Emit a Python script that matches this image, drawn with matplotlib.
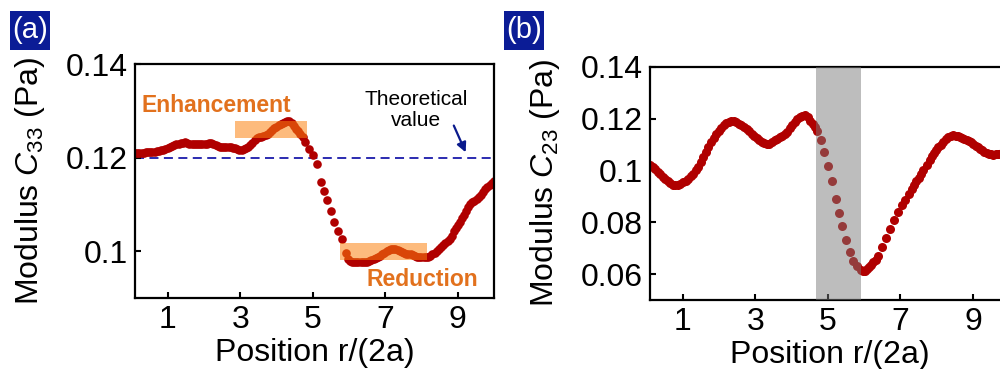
import numpy as np
import matplotlib.pyplot as plt
from matplotlib.patches import Rectangle

plt.rcParams['font.family'] = ['Liberation Sans', 'DejaVu Sans']
plt.rcParams['mathtext.fontset'] = 'custom'
plt.rcParams['mathtext.rm'] = 'Liberation Sans'
plt.rcParams['mathtext.it'] = 'Liberation Sans:italic'

# panel (a): modulus C33 vs position
xa = [0.10, 0.16, 0.22, 0.28, 0.34, 0.40, 0.46, 0.52, 0.58, 0.64, 0.70, 0.76, 0.82, 0.88, 0.94,
      1.00, 1.06, 1.12, 1.18, 1.24, 1.30, 1.36, 1.42, 1.48, 1.54, 1.60, 1.66, 1.72, 1.78, 1.84,
      1.90, 1.96, 2.02, 2.08, 2.14, 2.20, 2.26, 2.32, 2.38, 2.44, 2.50, 2.56, 2.62, 2.68, 2.74,
      2.80, 2.86, 2.92, 2.98, 3.04, 3.10, 3.16, 3.22, 3.28, 3.34, 3.40, 3.46, 3.52, 3.58, 3.64,
      3.70, 3.76, 3.82, 3.88, 3.94, 4.00, 4.06, 4.12, 4.18, 4.24, 4.30, 4.36, 4.42, 4.48, 4.54,
      4.60, 4.66, 4.72,
      4.80, 4.90, 5.00, 5.12, 5.22, 5.31, 5.39, 5.50, 5.60, 5.71, 5.81, 5.92,
      5.97, 6.02, 6.08, 6.14, 6.20, 6.26, 6.32, 6.38, 6.44, 6.50, 6.56, 6.62, 6.68, 6.74, 6.80,
      6.86, 6.92, 6.98, 7.04, 7.10, 7.16, 7.22, 7.28, 7.34, 7.40, 7.46, 7.52, 7.58, 7.64, 7.70,
      7.76, 7.82, 7.88, 7.94, 8.00, 8.06, 8.12, 8.18, 8.24,
      8.30, 8.36, 8.42, 8.48, 8.54, 8.60, 8.66, 8.72, 8.78, 8.84, 8.90, 8.95, 9.00, 9.06, 9.11,
      9.16, 9.22, 9.28, 9.34, 9.40, 9.46, 9.52, 9.58, 9.64, 9.70, 9.76, 9.82, 9.88, 9.94, 10.0]
ya = [0.1210, 0.1210, 0.1209, 0.1210, 0.1210, 0.1211, 0.1211, 0.1212, 0.1213, 0.1213, 0.1214,
      0.1215, 0.1216, 0.1217, 0.1218, 0.1220, 0.1222, 0.1225, 0.1227, 0.1229, 0.1230, 0.1231,
      0.1232, 0.1233, 0.1232, 0.1229, 0.1229, 0.1230, 0.1230, 0.1229, 0.1230, 0.1230, 0.1229,
      0.1230, 0.1231, 0.1231, 0.1229, 0.1226, 0.1224, 0.1223, 0.1222, 0.1222, 0.1222, 0.1222,
      0.1222, 0.1221, 0.1220, 0.1218, 0.1216, 0.1217, 0.1219, 0.1221, 0.1223, 0.1226, 0.1231,
      0.1238, 0.1242, 0.1244, 0.1245, 0.1246, 0.1248, 0.1251, 0.1255, 0.1259, 0.1263, 0.1266,
      0.1269, 0.1272, 0.1275, 0.1277, 0.1279, 0.1278, 0.1274, 0.1268, 0.1262, 0.1257, 0.1251,
      0.1244,
      0.1233, 0.1219, 0.1206, 0.1186, 0.1148, 0.1128, 0.1109, 0.1087, 0.1062, 0.1043, 0.1027,
      0.0997,
      0.0983, 0.0980, 0.0978, 0.0977, 0.0976, 0.0976, 0.0976, 0.0976, 0.0977, 0.0978, 0.0979,
      0.0981, 0.0983, 0.0985, 0.0987, 0.0990, 0.0994, 0.0997, 0.1000, 0.1002, 0.1004, 0.1005,
      0.1005, 0.1003, 0.1001, 0.0999, 0.0997, 0.0995, 0.0994, 0.0993, 0.0991, 0.0990, 0.0988,
      0.0987, 0.0987, 0.0987, 0.0988, 0.0988, 0.0989,
      0.0994, 0.0997, 0.1001, 0.1005, 0.1009, 0.1014, 0.1018, 0.1022, 0.1027, 0.1033, 0.1044,
      0.1050, 0.1055, 0.1062, 0.1070, 0.1077, 0.1085, 0.1094, 0.1101, 0.1105, 0.1108, 0.1111,
      0.1116, 0.1121, 0.1127, 0.1133, 0.1138, 0.1142, 0.1146, 0.1150]

# panel (b): modulus C23 vs position
xb = [0.10, 0.17, 0.24, 0.31, 0.38, 0.45, 0.52, 0.59, 0.66, 0.73, 0.80, 0.87, 0.94, 1.01, 1.08,
      1.15, 1.22, 1.29, 1.36, 1.43, 1.50, 1.57, 1.64, 1.71, 1.78, 1.85, 1.92, 1.99, 2.06, 2.13,
      2.20, 2.27, 2.34, 2.41, 2.48, 2.55, 2.62, 2.69, 2.76, 2.83, 2.90, 2.97, 3.04, 3.11, 3.18,
      3.25, 3.32, 3.39, 3.46, 3.53, 3.60, 3.67, 3.74, 3.81, 3.88, 3.95, 4.02, 4.09, 4.16, 4.23,
      4.30, 4.37, 4.44, 4.51, 4.58, 4.64,
      4.71, 4.81, 4.90, 5.01, 5.11, 5.21, 5.31, 5.40, 5.50, 5.60, 5.70, 5.81, 5.90, 5.96, 6.02,
      6.08, 6.14, 6.20, 6.25, 6.32, 6.39, 6.50, 6.60, 6.71, 6.82, 6.92, 7.03, 7.13, 7.23, 7.31,
      7.37, 7.43, 7.52, 7.57, 7.63, 7.72, 7.81, 7.87, 7.92, 7.98, 8.04, 8.11, 8.18, 8.25, 8.32,
      8.39, 8.45, 8.52, 8.58, 8.64, 8.70, 8.76, 8.82, 8.88, 8.95, 9.01, 9.07, 9.13, 9.19, 9.25,
      9.31, 9.37, 9.43, 9.50, 9.56, 9.62, 9.68, 9.74, 9.80]
yb = [0.1022, 0.1014, 0.1004, 0.0994, 0.0985, 0.0976, 0.0967, 0.0958, 0.0950, 0.0945, 0.0942,
      0.0944, 0.0948, 0.0954, 0.0961, 0.0968, 0.0978, 0.0988, 0.1000, 0.1015, 0.1033, 0.1052,
      0.1071, 0.1090, 0.1108, 0.1125, 0.1140, 0.1153, 0.1165, 0.1175, 0.1183, 0.1188, 0.1190,
      0.1190, 0.1186, 0.1181, 0.1175, 0.1168, 0.1160, 0.1151, 0.1142, 0.1133, 0.1124, 0.1116,
      0.1110, 0.1105, 0.1102, 0.1102, 0.1108, 0.1116, 0.1122, 0.1128, 0.1133, 0.1140, 0.1150,
      0.1162, 0.1174, 0.1186, 0.1197, 0.1206, 0.1212, 0.1214, 0.1208, 0.1192, 0.1180, 0.1168,
      0.1151, 0.1116, 0.1071, 0.1019, 0.0961, 0.0890, 0.0835, 0.0784, 0.0732, 0.0684, 0.0652,
      0.0630, 0.0617, 0.0612, 0.0613, 0.0618, 0.0626, 0.0636, 0.0645, 0.0656, 0.0671, 0.0706,
      0.0740, 0.0774, 0.0809, 0.0839, 0.0865, 0.0887, 0.0910, 0.0929, 0.0945, 0.0959, 0.0972,
      0.0985, 0.1000, 0.1022, 0.1041, 0.1055, 0.1067, 0.1079, 0.1090, 0.1100, 0.1109, 0.1120,
      0.1129, 0.1133, 0.1135, 0.1134, 0.1132, 0.1129, 0.1126, 0.1122, 0.1119, 0.1114, 0.1108,
      0.1103, 0.1096, 0.1090, 0.1084, 0.1078, 0.1072, 0.1067, 0.1064, 0.1062, 0.1061, 0.1062,
      0.1063, 0.1065, 0.1067]

theory = 0.12
enh_box = (2.87, 4.84, 0.1241, 0.1278)
red_box = (5.76, 8.16, 0.09815, 0.10185)
gray_band = (4.68, 5.92)

red = '#b00000'
orange_txt = '#e2711d'
fs = 23

fig = plt.figure(figsize=(10, 3.69), dpi=100)
ax1 = fig.add_axes([0.135, 0.1924, 0.359, 0.634])
ax2 = fig.add_axes([0.65, 0.187, 0.3594, 0.632])

for ax in (ax1, ax2):
    for s in ax.spines.values():
        s.set_linewidth(1.6)
    ax.tick_params(direction='in', length=4, width=1.5, labelsize=fs, pad=5,
                   top=False, right=False)
    ax.set_xlim(0.1, 10)
    ax.set_xticks([1, 3, 5, 7, 9])
    ax.set_xlabel('Position r/(2a)', fontsize=fs, labelpad=2)

# (a)
ax1.axhline(theory, color='#1a1aaa', lw=1.3, ls=(0, (5, 3)), zorder=1)
ax1.plot(xa, ya, 'o', color=red, ms=6.2, mec='none', zorder=2)
ax1.add_patch(Rectangle((enh_box[0], enh_box[2]), enh_box[1] - enh_box[0], enh_box[3] - enh_box[2],
                        facecolor=(0.99, 0.51, 0.06), alpha=0.54, lw=0, zorder=3))
ax1.add_patch(Rectangle((red_box[0], red_box[2]), red_box[1] - red_box[0], red_box[3] - red_box[2],
                        facecolor=(0.99, 0.51, 0.06), alpha=0.54, lw=0, zorder=3))
ax1.set_ylim(0.09, 0.14)
ax1.set_yticks([0.1, 0.12, 0.14])
ax1.set_yticklabels(['0.1', '0.12', '0.14'])
ax1.set_ylabel('Modulus $C_{33}$ (Pa)', fontsize=fs)
ax1.yaxis.set_label_coords(-0.245, 0.5)
ax1.text(0.27, 0.1311, 'Enhancement', color=orange_txt, fontsize=16.5, fontweight='bold',
         ha='left', va='center')
ax1.text(9.55, 0.0940, 'Reduction', color=orange_txt, fontsize=16.5, fontweight='bold',
         ha='right', va='center')
ax1.text(7.86, 0.1302, 'Theoretical\nvalue', fontsize=15, ha='center', va='center',
         linespacing=1.15)
ax1.annotate('', xy=(9.25, 0.1206), xytext=(8.86, 0.1274),
             arrowprops=dict(arrowstyle='-|>', color='#0a1a8c', lw=1.6,
                             mutation_scale=14))

# (b)
ax2.plot(xb, yb, 'o', color=red, ms=6.5, mec='none', zorder=2)
ax2.axvspan(gray_band[0], gray_band[1], color=(0.48, 0.48, 0.48), alpha=0.49, lw=0, zorder=3)
ax2.set_ylim(0.05, 0.14)
ax2.set_yticks([0.06, 0.08, 0.1, 0.12, 0.14])
ax2.set_yticklabels(['0.06', '0.08', '0.1', '0.12', '0.14'])
ax2.set_ylabel('Modulus $C_{23}$ (Pa)', fontsize=fs)
ax2.yaxis.set_label_coords(-0.245, 0.5)

# panel tags
for x0, tag in ((0.010, '(a)'), (0.504, '(b)')):
    fig.patches.append(Rectangle((x0, 1 - 50 / 369), 0.040, 39 / 369, transform=fig.transFigure,
                                 facecolor='#0b1c96', edgecolor='none'))
    fig.text(x0 + 0.020, 1 - 30.5 / 369, tag, color='white', fontsize=21,
             ha='center', va='center')

fig.savefig('out.png', dpi=100)
